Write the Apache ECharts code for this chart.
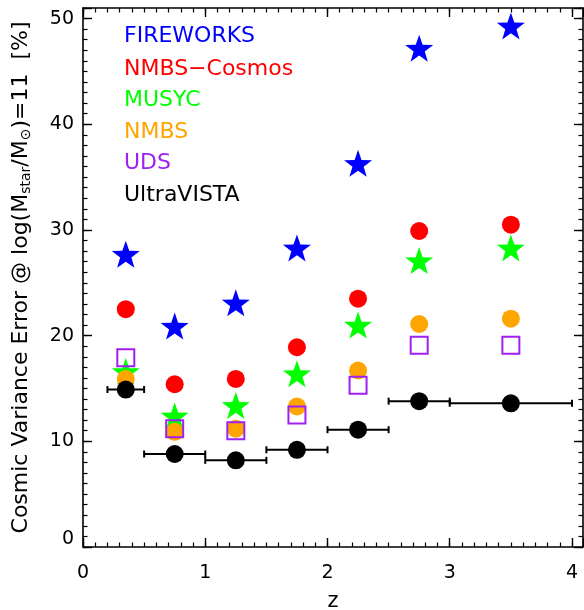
<!DOCTYPE html>
<html>
<head>
<meta charset="utf-8">
<script src="https://cdn.jsdelivr.net/npm/echarts@6/dist/echarts.min.js"></script>
<style>
  html, body { margin: 0; padding: 0; background: #fff; }
  #wrap { position: relative; width: 584px; height: 610px; }
  #chart, #ticks { position: absolute; left: 0; top: 0; width: 584px; height: 610px; }
  #ticks { pointer-events: none; }
</style>
</head>
<body>
<div id="wrap">
  <div id="chart"></div>
  <div id="ticks"></div>
</div>
<script>
// redshift bins (bin centres) and cosmic variance error [%] per survey
const zBins = [0.35, 0.75, 1.25, 1.75, 2.25, 2.75, 3.5]
const fireworks = [27.7, 20.9, 23.1, 28.3, 36.3, 47.2, 49.3]
const nmbsCosmos = [22.5, 15.4, 15.9, 18.9, 23.5, 29.9, 30.5]
const musyc = [16.6, 12.4, 13.4, 16.4, 21.0, 27.1, 28.3]
const nmbs = [15.9, 10.9, 11.2, 13.3, 16.7, 21.1, 21.6]
const uds = [17.9, 11.2, 11.0, 12.5, 15.3, 19.1, 19.1]
const ultraVista = [14.9, 8.8, 8.2, 9.2, 11.1, 13.8, 13.6]
// UltraVISTA bin edges (horizontal error bars)
const ultraVistaLo = [0.2, 0.5, 1.0, 1.5, 2.0, 2.5, 3.0]
const ultraVistaHi = [0.5, 1.0, 1.5, 2.0, 2.5, 3.0, 4.0]

const surveyNames = ['FIREWORKS', 'NMBS\u2212Cosmos', 'MUSYC', 'NMBS', 'UDS', 'UltraVISTA']
const surveyColors = ['#0000ff', '#ff0000', '#00ff00', '#ffa500', '#a020f0', '#000000']

const X_MAX = 4.09
const Y_MAX = 51
const FONT = 'DejaVu Sans'
const STAR = 'path://M50 0 L61.76 33.82 L97.55 34.55 L69.02 56.18 L79.39 90.45 L50 70 L20.61 90.45 L30.98 56.18 L2.45 34.55 L38.24 33.82 Z'

function gridBox () {
  // keep the plot box fixed even when labels/names reach the page edge
  return { left: 83, right: 1, top: 8, bottom: 63, containLabel: false, outerBoundsMode: 'none' }
}

function frameLine () {
  return { show: true, onZero: false, lineStyle: { color: '#000', width: 1.6 } }
}

function axis (dim, extra) {
  return Object.assign({
    type: 'value',
    min: 0,
    max: dim === 'x' ? X_MAX : Y_MAX,
    splitLine: { show: false },
    axisLine: { show: false, onZero: false },
    axisLabel: { show: false },
    axisTick: { show: false }
  }, extra)
}

// main chart: frame, labels, names, marks
const xAxes = [
  axis('x', {
    position: 'bottom',
    interval: 1,
    axisLine: frameLine(),
    axisLabel: { show: true, showMaxLabel: false, color: '#000', fontSize: 19, fontFamily: FONT, margin: 17 },
    name: 'z',
    nameLocation: 'middle',
    nameGap: 44,
    nameTextStyle: { color: '#000', fontSize: 21, fontFamily: FONT }
  }),
  axis('x', { position: 'top', interval: 1, axisLine: frameLine() })
]

const yAxes = [
  axis('y', {
    position: 'left',
    interval: 10,
    axisLine: frameLine(),
    axisLabel: {
      show: true,
      showMaxLabel: false,
      color: '#000',
      fontSize: 19,
      fontFamily: FONT,
      margin: 9,
      formatter: function (v) { return v === 0 ? '{lift|0}' : String(v) },
      rich: { lift: { fontSize: 19, fontFamily: FONT, color: '#000', padding: [0, 0, 16, 0] } }
    },
    name: '{a|Cosmic Variance Error @ log(M}{s|star}{a|/M}{s|\u2299}{a|)=11  [%]}',
    nameLocation: 'middle',
    nameGap: 50,
    nameTextStyle: {
      rich: {
        a: { fontSize: 22, fontFamily: FONT, color: '#000' },
        s: { fontSize: 14, fontFamily: FONT, color: '#000', verticalAlign: 'bottom', padding: [9, 0, 0, 0] }
      }
    }
  }),
  axis('y', { position: 'right', interval: 10, axisLine: frameLine() })
]

function pairs (vals) {
  return zBins.map((z, i) => [z, vals[i]])
}

const series = [
  { name: surveyNames[0], type: 'scatter', data: pairs(fireworks), symbol: STAR, symbolSize: [28, 27], itemStyle: { color: surveyColors[0], opacity: 1 } },
  { name: surveyNames[1], type: 'scatter', data: pairs(nmbsCosmos), symbol: 'circle', symbolSize: 18, itemStyle: { color: surveyColors[1], opacity: 1 } },
  { name: surveyNames[2], type: 'scatter', data: pairs(musyc), symbol: STAR, symbolSize: [28, 27], itemStyle: { color: surveyColors[2], opacity: 1 } },
  { name: surveyNames[3], type: 'scatter', data: pairs(nmbs), symbol: 'circle', symbolSize: 18, itemStyle: { color: surveyColors[3], opacity: 1 } },
  { name: surveyNames[4], type: 'scatter', data: pairs(uds), symbol: 'rect', symbolSize: 17, itemStyle: { color: 'rgba(0,0,0,0)', borderColor: surveyColors[4], borderWidth: 2, opacity: 1 } },
  {
    name: 'UltraVISTA bins',
    type: 'custom',
    data: ultraVistaLo.map((lo, i) => [lo, ultraVistaHi[i], ultraVista[i]]),
    encode: { x: [0, 1], y: 2 },
    renderItem: function (params, api) {
      const y = api.value(2)
      const a = api.coord([api.value(0), y])
      const b = api.coord([api.value(1), y])
      const st = { stroke: '#000', lineWidth: 2 }
      return {
        type: 'group',
        children: [
          { type: 'line', shape: { x1: a[0], y1: a[1], x2: b[0], y2: b[1] }, style: st },
          { type: 'line', shape: { x1: a[0], y1: a[1] - 3.5, x2: a[0], y2: a[1] + 3.5 }, style: st },
          { type: 'line', shape: { x1: b[0], y1: b[1] - 3.5, x2: b[0], y2: b[1] + 3.5 }, style: st }
        ]
      }
    }
  },
  { name: surveyNames[5], type: 'scatter', data: pairs(ultraVista), symbol: 'circle', symbolSize: 18, itemStyle: { color: surveyColors[5], opacity: 1 } }
]

// legend: coloured survey names stacked in the upper left
const legendY = [35, 68, 99.5, 131, 162.5, 194]
const legendText = surveyNames.map((name, i) => ({
  type: 'text',
  left: 124,
  top: legendY[i] - 10,
  style: { text: name, fill: surveyColors[i], font: '22px "' + FONT + '"' }
}))

const chart = echarts.init(document.getElementById('chart'))
chart.setOption({
  animation: false,
  backgroundColor: '#fff',
  textStyle: { fontFamily: FONT },
  grid: gridBox(),
  xAxis: xAxes,
  yAxis: yAxes,
  graphic: legendText,
  series: series
})

// overlay: inward major/minor ticks on all four sides, same grid
function tickAxis (dim, position, interval, length, width) {
  return axis(dim, {
    position: position,
    interval: interval,
    axisTick: { show: true, inside: true, length: length, lineStyle: { color: '#000', width: width } }
  })
}
const tickChart = echarts.init(document.getElementById('ticks'))
tickChart.setOption({
  animation: false,
  backgroundColor: 'transparent',
  grid: gridBox(),
  xAxis: [
    tickAxis('x', 'bottom', 0.1, 4.5, 1.2),
    tickAxis('x', 'bottom', 1, 9, 1.4),
    tickAxis('x', 'top', 0.1, 4.5, 1.2),
    tickAxis('x', 'top', 1, 9, 1.4)
  ],
  yAxis: [
    tickAxis('y', 'left', 1, 4.5, 1.2),
    tickAxis('y', 'left', 10, 9, 1.4),
    tickAxis('y', 'right', 1, 4.5, 1.2),
    tickAxis('y', 'right', 10, 9, 1.4)
  ],
  series: []
})
</script>
</body>
</html>
